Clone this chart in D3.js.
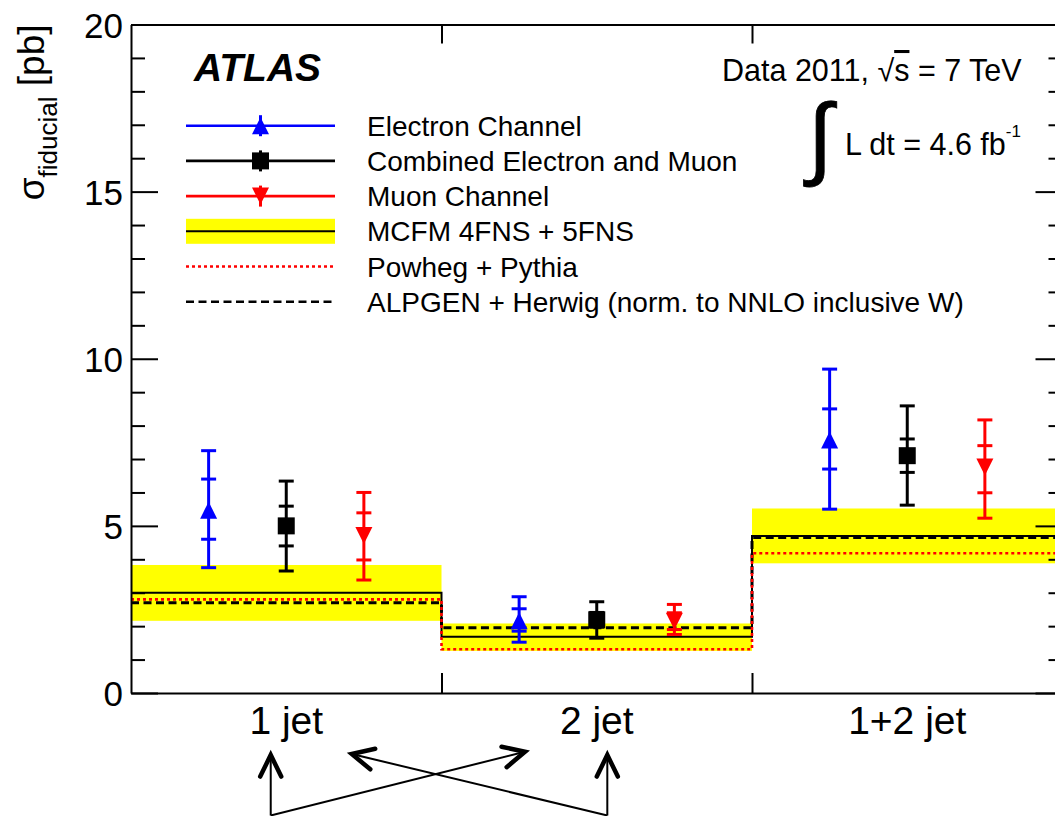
<!DOCTYPE html>
<html>
<head>
<meta charset="utf-8">
<script src="https://cdn.jsdelivr.net/npm/d3@7"></script>
<style>
  html, body { margin: 0; padding: 0; background: #fff; }
  svg { display: block; }
  text { font-family: "Liberation Sans", Arial, Helvetica, sans-serif; fill: #000; }
</style>
</head>
<body>
<svg id="chart" width="1055" height="816"></svg>
<script>
// ---- data ---------------------------------------------------------------
const categories = ["1 jet", "2 jet", "1+2 jet"];
const channels = ["Electron Channel", "Combined Electron and Muon", "Muon Channel"];

// measured fiducial cross sections [pb]
const electronValue   = [5.47, 2.16, 7.57];
const electronStatHi  = [6.40, 2.52, 8.50];
const electronStatLo  = [4.60, 1.85, 6.70];
const electronTotHi   = [7.25, 2.88, 9.69];
const electronTotLo   = [3.75, 1.52, 5.50];

const combinedValue   = [5.00, 2.19, 7.10];
const combinedStatHi  = [5.59, 2.41, 7.60];
const combinedStatLo  = [4.40, 1.97, 6.60];
const combinedTotHi   = [6.34, 2.73, 8.59];
const combinedTotLo   = [3.65, 1.64, 5.62];

const muonValue       = [4.71, 2.15, 6.76];
const muonStatHi      = [5.39, 2.40, 7.40];
const muonStatLo      = [3.98, 1.90, 5.99];
const muonTotHi       = [6.00, 2.65, 8.17];
const muonTotLo       = [3.38, 1.75, 5.23];

// theory predictions [pb]
const mcfmValue = [3.00, 1.68, 4.70];
const mcfmLo    = [2.16, 1.26, 3.88];
const mcfmHi    = [3.83, 2.08, 5.52];
const powhegValue = [2.80, 1.31, 4.18];
const alpgenValue = [2.70, 1.95, 4.65];

const yMajorTicks = [0, 5, 10, 15, 20];
const yMinorTicks = d3.range(0, 21).filter(v => v % 5 !== 0);

const legendLabels = [
  "Electron Channel",
  "Combined Electron and Muon",
  "Muon Channel",
  "MCFM 4FNS + 5FNS",
  "Powheg + Pythia",
  "ALPGEN + Herwig (norm. to NNLO inclusive W)"
];

// ---- layout ---------------------------------------------------------------
const svg = d3.select("#chart");
const frame = { left: 131, right: 1062.5, top: 24.5, bottom: 693 };
const BLUE = "#0000ff", RED = "#ff0000", YELLOW = "#ffff00";

const x = d3.scaleBand().domain(categories).range([frame.left, frame.right]).padding(0);
const xLin = d3.scaleLinear().domain([0, categories.length]).range([frame.left, frame.right]);
const xCh = d3.scalePoint().domain(channels).range([0, x.bandwidth()]).padding(1);
const y = d3.scaleLinear().domain([0, 20]).range([frame.bottom, frame.top]);

// ---- MCFM uncertainty band ------------------------------------------------
svg.append("g").selectAll("rect")
  .data(categories)
  .join("rect")
  .attr("x", c => x(c))
  .attr("width", x.bandwidth())
  .attr("y", (c, i) => y(mcfmHi[i]))
  .attr("height", (c, i) => y(mcfmLo[i]) - y(mcfmHi[i]))
  .attr("fill", YELLOW);

// ---- theory histograms (step lines) ----------------------------------------
const step = d3.line()
  .x(d => xLin(d[0]))
  .y(d => y(d[1]))
  .curve(d3.curveStepAfter);
const histPoints = vals => vals.map((v, i) => [i, v]).concat([[vals.length, vals[vals.length - 1]]]);

svg.append("path").attr("d", step(histPoints(mcfmValue)))
  .attr("fill", "none").attr("stroke", "#000").attr("stroke-width", 2);
svg.append("path").attr("d", step(histPoints(alpgenValue)))
  .attr("fill", "none").attr("stroke", "#000").attr("stroke-width", 3)
  .attr("stroke-dasharray", "8,4.5");
svg.append("path").attr("d", step(histPoints(powhegValue)))
  .attr("fill", "none").attr("stroke", RED).attr("stroke-width", 2.6)
  .attr("stroke-dasharray", "3,3");

// ---- axes / frame ---------------------------------------------------------
function styleAxis(g) {
  g.selectAll(".domain").attr("stroke", "#000").attr("stroke-width", 2);
  g.selectAll(".tick line").attr("stroke", "#000").attr("stroke-width", 2);
}

const gyMinor = svg.append("g").attr("transform", `translate(${frame.left},0)`)
  .call(d3.axisLeft(y).tickValues(yMinorTicks).tickSizeInner(-14).tickSizeOuter(0).tickFormat(""));
gyMinor.select(".domain").remove();
styleAxis(gyMinor);

const gy = svg.append("g").attr("transform", `translate(${frame.left},0)`)
  .call(d3.axisLeft(y).tickValues(yMajorTicks).tickSizeInner(-27).tickSizeOuter(0).tickPadding(8)
    .tickFormat(d3.format("d")));
styleAxis(gy);
gy.selectAll(".tick text").attr("font-size", 35).attr("dy", "0.37em")
  .attr("font-family", "'Liberation Sans', Arial, Helvetica, sans-serif").attr("fill", "#000");

const gyrMinor = svg.append("g").attr("transform", `translate(${frame.right},0)`)
  .call(d3.axisRight(y).tickValues(yMinorTicks).tickSizeInner(-14).tickSizeOuter(0).tickFormat(""));
gyrMinor.select(".domain").remove();
styleAxis(gyrMinor);
const gyr = svg.append("g").attr("transform", `translate(${frame.right},0)`)
  .call(d3.axisRight(y).tickValues(yMajorTicks).tickSizeInner(-27).tickSizeOuter(0).tickFormat(""));
styleAxis(gyr);

const binEdges = d3.range(1, categories.length);
const gxTop = svg.append("g").attr("transform", `translate(0,${frame.top})`)
  .call(d3.axisTop(xLin).tickValues(binEdges).tickSizeInner(-19).tickSizeOuter(0).tickFormat(""));
styleAxis(gxTop);
const gxBot = svg.append("g").attr("transform", `translate(0,${frame.bottom})`)
  .call(d3.axisBottom(xLin).tickValues(binEdges).tickSizeInner(-20).tickSizeOuter(0).tickFormat(""));
styleAxis(gxBot);

const gxLab = svg.append("g").attr("transform", `translate(0,${frame.bottom})`)
  .call(d3.axisBottom(x).tickSize(0).tickPadding(13));
gxLab.select(".domain").remove();
gxLab.selectAll(".tick text").attr("font-size", 39)
  .attr("font-family", "'Liberation Sans', Arial, Helvetica, sans-serif").attr("fill", "#000");

// y-axis title
const yTitle = svg.append("text")
  .attr("transform", `translate(44,${frame.top}) rotate(-90)`)
  .attr("text-anchor", "end")
  .attr("font-size", 37);
yTitle.append("tspan").text("σ");
yTitle.append("tspan").attr("font-size", 26).attr("dy", 13).text("fiducial");
yTitle.append("tspan").attr("dy", -13).text(" [pb]");

// ---- markers ----------------------------------------------------------------
const MS = 17;
function markerPath(kind, s) {
  const h = s / 2;
  if (kind === "up")   return `M0,${-h}L${h},${h}L${-h},${h}Z`;
  if (kind === "down") return `M0,${h}L${h},${-h}L${-h},${-h}Z`;
  return `M${-h},${-h}H${h}V${h}H${-h}Z`;
}

const series = [
  { name: channels[0], color: BLUE,   marker: "up",     value: electronValue, statHi: electronStatHi, statLo: electronStatLo, totHi: electronTotHi, totLo: electronTotLo },
  { name: channels[1], color: "#000", marker: "square", value: combinedValue, statHi: combinedStatHi, statLo: combinedStatLo, totHi: combinedTotHi, totLo: combinedTotLo },
  { name: channels[2], color: RED,    marker: "down",   value: muonValue,     statHi: muonStatHi,     statLo: muonStatLo,     totHi: muonTotHi,     totLo: muonTotLo }
];

const CAP = 7.5;
series.forEach(s => {
  const g = svg.append("g").attr("stroke", s.color).attr("stroke-width", 3);
  categories.forEach((c, i) => {
    const cx = x(c) + xCh(s.name);
    g.append("line").attr("x1", cx).attr("x2", cx)
      .attr("y1", y(s.totHi[i])).attr("y2", y(s.totLo[i]));
    [s.totHi[i], s.totLo[i], s.statHi[i], s.statLo[i]].forEach(v => {
      g.append("line").attr("x1", cx - CAP).attr("x2", cx + CAP)
        .attr("y1", y(v)).attr("y2", y(v));
    });
    svg.append("path")
      .attr("transform", `translate(${cx},${y(s.value[i])})`)
      .attr("d", markerPath(s.marker, MS))
      .attr("fill", s.color);
  });
});

// ---- legend -----------------------------------------------------------------
const leg = { x0: 186, x1: 335, xm: 260.5, xt: 367, top: 125.7, row: 35.2 };
const legG = svg.append("g");
legendLabels.forEach((lab, i) => {
  const ry = leg.top + i * leg.row;
  if (i < 3) {
    const s = series[i];
    legG.append("line").attr("x1", leg.x0).attr("x2", leg.x1).attr("y1", ry).attr("y2", ry)
      .attr("stroke", s.color).attr("stroke-width", 2.6);
    legG.append("line").attr("x1", leg.xm).attr("x2", leg.xm).attr("y1", ry - 10.5).attr("y2", ry + 10.5)
      .attr("stroke", s.color).attr("stroke-width", 3);
    legG.append("path").attr("transform", `translate(${leg.xm},${ry})`)
      .attr("d", markerPath(s.marker, MS)).attr("fill", s.color);
  } else if (i === 3) {
    legG.append("rect").attr("x", leg.x0).attr("y", ry - 12.5).attr("width", leg.x1 - leg.x0).attr("height", 25)
      .attr("fill", YELLOW);
    legG.append("line").attr("x1", leg.x0).attr("x2", leg.x1).attr("y1", ry).attr("y2", ry)
      .attr("stroke", "#000").attr("stroke-width", 2);
  } else if (i === 4) {
    legG.append("line").attr("x1", leg.x0).attr("x2", leg.x1).attr("y1", ry).attr("y2", ry)
      .attr("stroke", RED).attr("stroke-width", 2.6).attr("stroke-dasharray", "3,3");
  } else {
    legG.append("line").attr("x1", leg.x0).attr("x2", leg.x1).attr("y1", ry).attr("y2", ry)
      .attr("stroke", "#000").attr("stroke-width", 2.6).attr("stroke-dasharray", "8,4.5");
  }
  legG.append("text").attr("x", leg.xt).attr("y", ry + 10).attr("font-size", 28).text(lab);
});

// ---- labels -----------------------------------------------------------------
svg.append("text").attr("x", 194).attr("y", 81)
  .attr("font-size", 39).attr("font-weight", "bold").attr("font-style", "italic")
  .text("ATLAS");

const dataTxt = svg.append("text").attr("x", 722).attr("y", 81).attr("font-size", 30.5);
dataTxt.append("tspan").text("Data 2011, √");
dataTxt.append("tspan").attr("text-decoration", "overline").text("s");
dataTxt.append("tspan").text(" = 7 TeV");

svg.append("text").attr("x", 808).attr("y", 167)
  .attr("font-family", "'DejaVu Serif', serif").attr("font-size", 90).attr("font-style", "italic")
  .attr("stroke", "#000").attr("stroke-width", 0.8)
  .text("∫");
const lumi = svg.append("text").attr("x", 845).attr("y", 155).attr("font-size", 30.5);
lumi.append("tspan").text("L dt = 4.6 fb");
lumi.append("tspan").attr("font-size", 17).attr("dy", -18).text("-1");

// ---- arrows below the category labels ----------------------------------------
// ends given as [bin coordinate, pixels below the x axis]
const arrows = [
  { from: [0.45, 122.5],  to: [0.45, 62] },
  { from: [1.534, 122.5], to: [1.534, 62] },
  { from: [0.45, 122.5],  to: [1.269, 58.7] },
  { from: [1.534, 122.5], to: [0.711, 61] }
];
const ap = p => [xLin(p[0]), frame.bottom + p[1]];
const arrG = svg.append("g").attr("fill", "none").attr("stroke", "#000");
arrows.forEach(a => {
  const [x0, y0] = ap(a.from), [x1, y1] = ap(a.to);
  arrG.append("path").attr("d", d3.line()([[x0, y0], [x1, y1]])).attr("stroke-width", 2);
  const ang = Math.atan2(y0 - y1, x0 - x1), half = 26 * Math.PI / 180, L = 24;
  const w1 = [x1 + L * Math.cos(ang + half), y1 + L * Math.sin(ang + half)];
  const w2 = [x1 + L * Math.cos(ang - half), y1 + L * Math.sin(ang - half)];
  arrG.append("path").attr("d", d3.line()([w1, [x1, y1], w2]))
    .attr("stroke-width", 4.5).attr("stroke-linecap", "round").attr("stroke-linejoin", "miter");
});
</script>
</body>
</html>
